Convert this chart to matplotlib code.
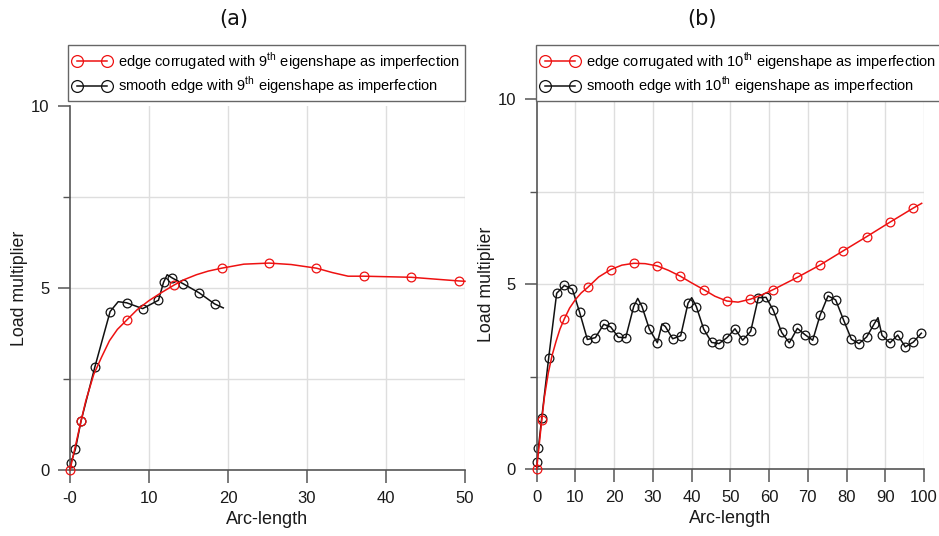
import matplotlib
matplotlib.use("Agg")
import matplotlib.pyplot as plt
from matplotlib.ticker import FixedLocator

plt.rcParams['font.family'] = ['Liberation Sans', 'DejaVu Sans']
plt.rcParams['mathtext.fontset'] = 'custom'
plt.rcParams['mathtext.rm'] = 'Liberation Sans'

# ---------------- Panel (a) data ----------------
a_red_x = [0, 1.39, 2.0, 3.0, 4.0, 5.0, 6.0, 7.2, 8.5, 10.0, 11.5, 13.2, 14.5, 16.0, 17.5,
           19.2, 22.0, 25.2, 28.0, 31.2, 33.2, 35.2, 37.2, 43.2, 49.2, 50.0]
a_red_y = [0, 1.34, 1.90, 2.62, 3.10, 3.55, 3.86, 4.12, 4.40, 4.65, 4.86, 5.08, 5.23, 5.36, 5.46,
           5.54, 5.65, 5.68, 5.64, 5.54, 5.42, 5.32, 5.32, 5.29, 5.19, 5.18]
a_red_marks = [0, 1, 7, 11, 15, 17, 19, 22, 23, 24]

a_blk_x = [0, 0.13, 0.68, 1.39, 3.16, 5.08, 6.1, 7.17, 9.2, 11.2, 11.84, 12.3, 12.95, 14.35,
           16.37, 18.3, 19.4]
a_blk_y = [0, 0.20, 0.57, 1.34, 2.84, 4.35, 4.62, 4.59, 4.43, 4.66, 5.15, 5.36, 5.27, 5.11,
           4.86, 4.56, 4.45]
a_blk_marks = [1, 2, 3, 4, 5, 7, 8, 9, 10, 12, 13, 14, 15]

# ---------------- Panel (b) data ----------------
b_red_x = [0, 1.3, 2.0, 3.0, 4.0, 5.0, 6.0, 7.1, 8.5, 10.0, 11.5, 13.2, 16.0, 19.1, 22.0, 25.1,
           28.0, 31.1, 34.0, 37.1, 40.0, 43.1, 46.0, 49.1, 52.0, 55.2, 58.0, 61.1, 67.3, 73.1,
           79.2, 85.2, 91.2, 97.2, 99.4]
b_red_y = [0, 1.32, 1.95, 2.60, 3.08, 3.45, 3.78, 4.05, 4.35, 4.58, 4.76, 4.91, 5.19, 5.39, 5.51,
           5.56, 5.55, 5.49, 5.37, 5.21, 5.03, 4.85, 4.67, 4.54, 4.51, 4.59, 4.70, 4.85, 5.18,
           5.51, 5.90, 6.28, 6.67, 7.05, 7.18]
b_red_marks = [0, 1, 7, 11, 13, 15, 17, 19, 21, 23, 25, 27, 28, 29, 30, 31, 32, 33]

b_blk_x = [0, 0.09, 0.43, 1.29, 3.10, 5.16, 7.14, 9.21, 11.10, 13.08, 15.15, 17.30, 19.10,
           21.08, 22.98, 25.04, 26.08, 27.19, 29.09, 31.15, 32.36, 33.22, 35.11, 37.18, 39.07,
           40.02, 41.22, 43.12, 45.18, 47.07, 49.14, 51.2, 53.18, 55.25, 57.23, 59.21, 61.10,
           63.25, 65.23, 67.30, 69.28, 71.26, 73.15, 75.22, 77.19, 79.26, 81.24, 83.22, 85.2,
           87.18, 88.12, 89.16, 91.22, 93.2, 95.18, 97.25, 99.31]
b_blk_y = [0, 0.20, 0.56, 1.37, 3.01, 4.75, 4.96, 4.86, 4.23, 3.50, 3.55, 3.91, 3.84,
           3.56, 3.55, 4.39, 4.61, 4.39, 3.78, 3.41, 3.92, 3.85, 3.52, 3.60, 4.48,
           4.63, 4.39, 3.78, 3.42, 3.39, 3.55, 3.79, 3.48, 3.72, 4.63, 4.64, 4.29,
           3.69, 3.41, 3.80, 3.63, 3.48, 4.15, 4.68, 4.57, 4.02, 3.51, 3.39, 3.57,
           3.93, 4.09, 3.61, 3.41, 3.62, 3.30, 3.43, 3.67]
b_vertex_only = [0, 16, 20, 25, 50]
b_blk_marks = [i for i in range(len(b_blk_x)) if i not in b_vertex_only]

x_label = "Arc-length"
y_label = "Load multiplier"
a_legend = ["edge corrugated with 9$^{\\mathrm{th}}$ eigenshape as imperfection",
            "smooth edge with 9$^{\\mathrm{th}}$ eigenshape as imperfection"]
b_legend = ["edge corrugated with 10$^{\\mathrm{th}}$ eigenshape as imperfection",
            "smooth edge with 10$^{\\mathrm{th}}$ eigenshape as imperfection"]

W, H = 939, 536
fig = plt.figure(figsize=(W / 100, H / 100), dpi=100)

axA = fig.add_axes([70 / W, 1 - 470 / H, 395 / W, (470 - 105.7) / H])
axB = fig.add_axes([536.7 / W, 1 - 469 / H, 387.3 / W, (469 - 99) / H])

spine_col = '#555555'
grid_col = '#dedede'


def style(ax, xmax, xstep, xlabels):
    ax.set_xlim(0, xmax)
    ax.set_ylim(0, 10)
    for s in ['top', 'right']:
        ax.spines[s].set_visible(False)
    for s in ['left', 'bottom']:
        ax.spines[s].set_color(spine_col)
        ax.spines[s].set_linewidth(1.2)
    xt = list(range(0, xmax + 1, xstep))
    ax.set_xticks(xt)
    ax.set_xticklabels(xlabels)
    ax.set_yticks([0, 5, 10])
    ax.set_yticklabels(['0', '5', '10'])
    ax.yaxis.set_minor_locator(FixedLocator([2.5, 7.5]))
    ax.tick_params(axis='both', which='major', length=9, width=1.1, color=spine_col,
                   labelsize=12, labelcolor='#1a1a1a', pad=6)
    ax.tick_params(axis='y', which='minor', length=5, width=1.0, color=spine_col)
    for xv in xt[1:]:
        ax.axvline(xv, ymin=0, ymax=1, color=grid_col, lw=1.0, zorder=0)
    for yv in [2.5, 5, 7.5]:
        ax.axhline(yv, color=grid_col, lw=1.0, zorder=0)
    ax.set_xlabel(x_label, fontsize=13, color='#1a1a1a', labelpad=4)
    ax.set_ylabel(y_label, fontsize=12.8, color='#1a1a1a', labelpad=2)


style(axA, 50, 10, ['-0', '10', '20', '30', '40', '50'])
style(axB, 100, 10, [str(v) for v in range(0, 101, 10)])

mk = dict(marker='o', markersize=6.3, markerfacecolor='none', markeredgewidth=0.9, clip_on=False)

lA1, = axA.plot(a_red_x, a_red_y, color='#ee1111', lw=1.1, markevery=a_red_marks,
                markeredgecolor='#ee1111', zorder=3, **mk)
lA2, = axA.plot(a_blk_x, a_blk_y, color='#111111', lw=1.1, markevery=a_blk_marks,
                markeredgecolor='#111111', zorder=2, **mk)
lB1, = axB.plot(b_red_x, b_red_y, color='#ee1111', lw=1.1, markevery=b_red_marks,
                markeredgecolor='#ee1111', zorder=3, **mk)
lB2, = axB.plot(b_blk_x, b_blk_y, color='#111111', lw=1.1, markevery=b_blk_marks,
                markeredgecolor='#111111', zorder=2, **mk)

leg_kw = dict(loc='upper left', numpoints=2, markerscale=1.35, fontsize=10.5,
              frameon=True, fancybox=False, edgecolor='#666666', framealpha=1,
              handlelength=2.6, handletextpad=0.45, borderpad=0.35, labelspacing=0.2,
              borderaxespad=0)
legA = fig.legend([lA1, lA2], a_legend, bbox_to_anchor=(68 / W, 1 - 45 / H), **leg_kw)
legB = fig.legend([lB1, lB2], b_legend, bbox_to_anchor=(536 / W, 1 - 45 / H), **leg_kw)
for lg in (legA, legB):
    lg.get_frame().set_linewidth(1.0)
    for h in lg.legend_handles:
        h.set_markevery(None)

fig.text(234 / W, 1 - 19 / H, "(a)", ha='center', va='center', fontsize=15,
         family='DejaVu Sans', color='#111111')
fig.text(702 / W, 1 - 19 / H, "(b)", ha='center', va='center', fontsize=15,
         family='DejaVu Sans', color='#111111')

fig.savefig("out.png", dpi=100)
